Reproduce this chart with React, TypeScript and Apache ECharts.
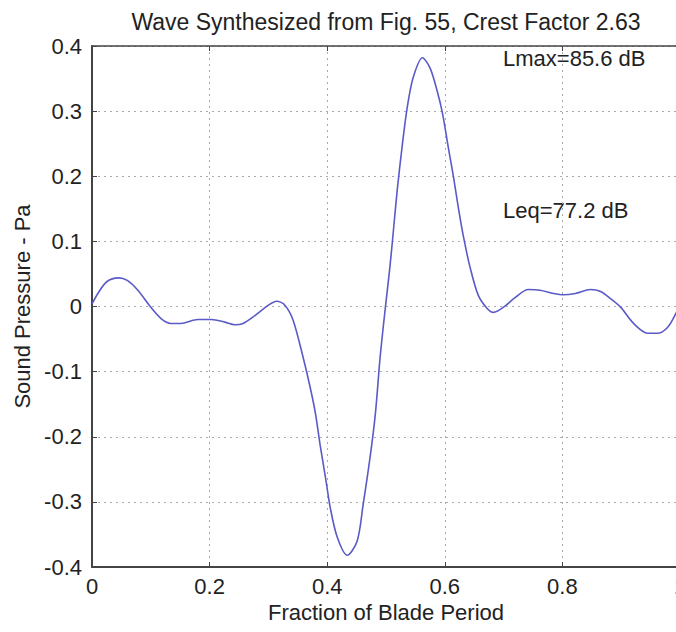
import React, { useEffect, useRef } from "react";
import * as echarts from "echarts";

const titleText = "Wave Synthesized from Fig. 55, Crest Factor 2.63";
const xName = "Fraction of Blade Period";
const yName = "Sound Pressure - Pa";
const notes = ["Lmax=85.6 dB", "Leq=77.2 dB"];

const xTicks = [0, 0.2, 0.4, 0.6, 0.8, 1];
const yTicks = [-0.4, -0.3, -0.2, -0.1, 0, 0.1, 0.2, 0.3, 0.4];

const fraction = [
  0.0, 0.01, 0.025, 0.045, 0.06, 0.078, 0.099, 0.118, 0.134, 0.151, 0.18, 0.203,
  0.226, 0.243, 0.257, 0.277, 0.3, 0.314, 0.328, 0.342, 0.359, 0.371, 0.38, 0.388,
  0.397, 0.405, 0.417, 0.434, 0.451, 0.461, 0.473, 0.482, 0.49, 0.499, 0.506, 0.511,
  0.519, 0.528, 0.536, 0.546, 0.562, 0.575, 0.587, 0.596, 0.606, 0.615, 0.623, 0.632,
  0.643, 0.657, 0.672, 0.683, 0.7, 0.72, 0.742, 0.762, 0.785, 0.802, 0.822, 0.848,
  0.865, 0.882, 0.899, 0.921, 0.945, 0.963, 0.979, 0.994, 1.0,
];
const pressure = [
  0.004, 0.02, 0.038, 0.044, 0.04, 0.025, 0.0, -0.019, -0.026, -0.026, -0.02, -0.02,
  -0.024, -0.028, -0.026, -0.014, 0.002, 0.008, 0.002, -0.021, -0.078, -0.124, -0.164, -0.213,
  -0.262, -0.308, -0.354, -0.382, -0.36, -0.305, -0.231, -0.164, -0.078, -0.001, 0.055, 0.101,
  0.178, 0.25, 0.305, 0.351, 0.382, 0.366, 0.331, 0.297, 0.244, 0.198, 0.152, 0.106,
  0.06, 0.017, -0.003, -0.009, -0.001, 0.014, 0.026, 0.025, 0.02, 0.018, 0.02, 0.026,
  0.023, 0.012, -0.001, -0.026, -0.041, -0.041, -0.032, -0.009, 0.002,
];

const FONT = "'Liberation Sans', Arial, Helvetica, sans-serif";
const TXT = "#222";

export default function App() {
  const ref = useRef<HTMLDivElement>(null);
  useEffect(() => {
    document.body.style.margin = "0";
    const chart = echarts.init(ref.current!, undefined, { renderer: "svg" });
    const fmt = (v: number) => {
      const r = Math.round(v * 10) / 10;
      return r === 0 ? "0" : String(r);
    };
    chart.setOption({
      animation: false,
      backgroundColor: "#fff",
      textStyle: { fontFamily: FONT },
      grid: {
        left: 92,
        top: 46,
        width: 588,
        height: 521,
        containLabel: false,
        outerBoundsMode: "none",
      },
      title: {
        text: titleText,
        left: 381,
        top: 5,
        textAlign: "center",
        textStyle: { fontFamily: FONT, fontSize: 23, fontWeight: "normal", color: TXT },
      },
      xAxis: [
        {
          type: "value",
          min: xTicks[0],
          max: xTicks[xTicks.length - 1],
          interval: 0.2,
          name: xName,
          nameLocation: "middle",
          nameGap: 32,
          nameTextStyle: { fontFamily: FONT, fontSize: 22, color: TXT },
          axisLine: { show: true, onZero: false, lineStyle: { color: "#444", width: 2 } },
          axisTick: { show: true, inside: true, length: 5, lineStyle: { color: "#444" } },
          axisLabel: { formatter: fmt, fontFamily: FONT, fontSize: 22, color: TXT, margin: 8 },
          splitLine: { show: true, lineStyle: { color: "#aaa", type: [2, 4], width: 1 } },
        },
        {
          type: "value",
          position: "top",
          min: xTicks[0],
          max: xTicks[xTicks.length - 1],
          interval: 0.2,
          axisLine: { show: true, onZero: false, lineStyle: { color: "#444", width: 1.5 } },
          axisTick: { show: true, inside: true, length: 5, lineStyle: { color: "#444" } },
          axisLabel: { show: false },
          splitLine: { show: false },
        },
      ],
      yAxis: {
        type: "value",
        min: yTicks[0],
        max: yTicks[yTicks.length - 1],
        interval: 0.1,
        name: yName,
        nameLocation: "middle",
        nameGap: 56,
        nameTextStyle: { fontFamily: FONT, fontSize: 22, color: TXT },
        axisLine: { show: true, onZero: false, lineStyle: { color: "#444", width: 2 } },
        axisTick: { show: true, inside: true, length: 5, lineStyle: { color: "#444" } },
        axisLabel: { formatter: fmt, fontFamily: FONT, fontSize: 22, color: TXT, margin: 10 },
        splitLine: { show: true, lineStyle: { color: "#aaa", type: [2, 4], width: 1 } },
      },
      graphic: [
        {
          type: "text",
          left: 503,
          top: 47,
          style: { text: notes[0], font: `22px ${FONT}`, fill: TXT },
        },
        {
          type: "text",
          left: 503,
          top: 199,
          style: { text: notes[1], font: `22px ${FONT}`, fill: TXT },
        },
      ],
      series: [
        {
          type: "line",
          data: fraction.map((x, i) => [x, pressure[i]]),
          showSymbol: false,
          smooth: 0.3,
          lineStyle: { color: "#5a5ac8", width: 1.6 },
          xAxisIndex: 0,
        },
      ],
    });
    return () => chart.dispose();
  }, []);
  return <div ref={ref} style={{ width: 676, height: 632 }} />;
}
